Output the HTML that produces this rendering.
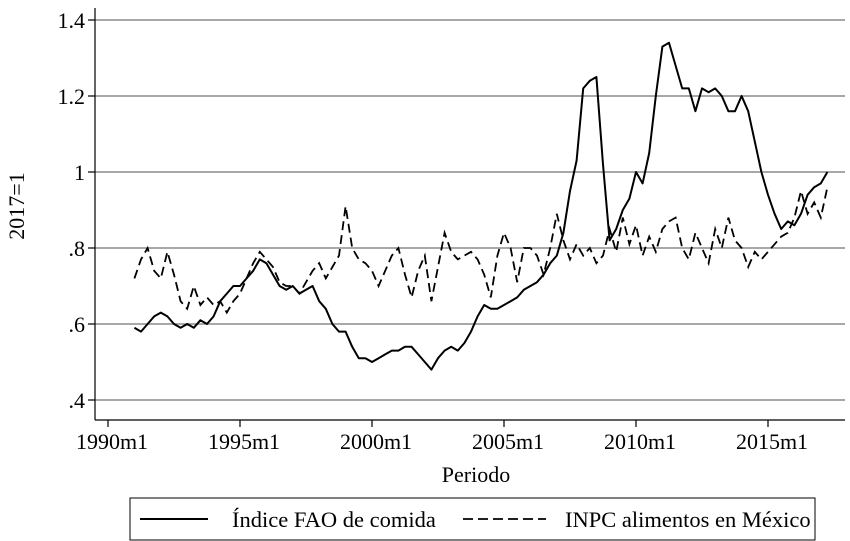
<!DOCTYPE html>
<html><head><meta charset="utf-8">
<style>
body{margin:0;background:#fff;}
svg{display:block;font-family:"Liberation Serif",serif;}
</style></head><body>
<svg id="c" width="850" height="541">
<rect width="850" height="541" fill="#fff"/>
<g id="grid"></g><g id="axes"></g><g id="series"></g>
<text x="24" y="206" font-size="22" text-anchor="middle" transform="rotate(-90 24 206)">2017=1</text>
<text x="476" y="482" font-size="22" text-anchor="middle">Periodo</text>
<g>
<rect x="130" y="498" width="685" height="42" fill="none" stroke="#000" stroke-width="1"/>
<line x1="140" y1="519" x2="208" y2="519" stroke="#000" stroke-width="2"/>
<text x="232" y="527" font-size="22.5">Índice FAO de comida</text>
<line x1="463" y1="519" x2="546" y2="519" stroke="#000" stroke-width="1.8" stroke-dasharray="10,5"/>
<text x="565" y="527" font-size="22.5">INPC alimentos en México</text>
</g>
</svg>
<script>
const yTicks=[0.4,0.6,0.8,1.0,1.2,1.4];
const yTickLabels=[".4",".6",".8","1","1.2","1.4"];
const xTicks=[1990,1995,2000,2005,2010,2015];
const xTickLabels=["1990m1","1995m1","2000m1","2005m1","2010m1","2015m1"];
const startYear=1991;
const fao=[.59,.58,.60,.62,.63,.62,.60,.59,.60,.59,.61,.60,.62,.66,.68,.70,.70,.72,.74,.77,.76,.73,.70,.69,.70,.68,.69,.70,.66,.64,.60,.58,.58,.54,.51,.51,.50,.51,.52,.53,.53,.54,.54,.52,.50,.48,.51,.53,.54,.53,.55,.58,.62,.65,.64,.64,.65,.66,.67,.69,.70,.71,.73,.76,.78,.84,.95,1.03,1.22,1.24,1.25,1.02,.82,.85,.90,.93,1.00,.97,1.05,1.20,1.33,1.34,1.28,1.22,1.22,1.16,1.22,1.21,1.22,1.20,1.16,1.16,1.20,1.16,1.08,1.00,.94,.89,.85,.87,.86,.89,.94,.96,.97,1.00];
const inpc=[.72,.77,.80,.74,.72,.79,.73,.66,.64,.70,.65,.67,.65,.66,.63,.66,.68,.72,.76,.79,.77,.75,.71,.70,.70,.68,.71,.74,.76,.72,.75,.78,.91,.80,.77,.76,.74,.70,.74,.78,.80,.73,.67,.74,.78,.66,.75,.84,.79,.77,.78,.79,.77,.73,.67,.78,.84,.80,.71,.80,.80,.78,.73,.80,.89,.82,.77,.81,.78,.80,.76,.78,.85,.79,.88,.81,.86,.78,.83,.79,.85,.87,.88,.80,.77,.84,.80,.76,.85,.80,.88,.82,.80,.75,.79,.77,.79,.81,.83,.84,.88,.95,.89,.92,.88,.96];
const NS="http://www.w3.org/2000/svg";
const X=t=>108+(t-1990)*26.4;
const Y=v=>172-(v-1)*380;
function mk(tag,a,p){const e=document.createElementNS(NS,tag);for(const k in a)e.setAttribute(k,a[k]);p.appendChild(e);return e;}
const grid=document.getElementById('grid'),axes=document.getElementById('axes'),ser=document.getElementById('series');
yTicks.forEach((v,i)=>{
 const g=mk('line',{x1:95,x2:845,y1:Y(v),y2:Y(v),stroke:'#8c8c8c','stroke-width':1.5},grid);
 
 
 mk('line',{x1:88,x2:95,y1:Y(v),y2:Y(v),stroke:'#000','stroke-width':1.2},axes);
 const t=mk('text',{x:85,y:Y(v)+8,'font-size':22,'text-anchor':'end'},axes);
 t.textContent=yTickLabels[i];
 
 
});
mk('line',{x1:95,x2:95,y1:8,y2:420,stroke:'#000','stroke-width':1.2},axes);
mk('line',{x1:95,x2:845,y1:420,y2:420,stroke:'#000','stroke-width':1.2},axes);
xTicks.forEach((v,i)=>{
 mk('line',{x1:X(v),x2:X(v),y1:420,y2:427,stroke:'#000','stroke-width':1.2},axes);
 const t=mk('text',{x:X(v)+4,y:449,'font-size':22,'text-anchor':'middle'},axes);
 t.textContent=xTickLabels[i];
 
 
});
function pts(arr){return arr.map((v,i)=>X(startYear+i/4).toFixed(1)+','+Y(v).toFixed(1)).join(' ');}
const p1=mk('polyline',{points:pts(fao),fill:'none',stroke:'#000','stroke-width':2,'stroke-linejoin':'round'},ser);


const p2=mk('polyline',{points:pts(inpc),fill:'none',stroke:'#000','stroke-width':1.8,'stroke-dasharray':'9,5'},ser);


</script>
</body></html>
